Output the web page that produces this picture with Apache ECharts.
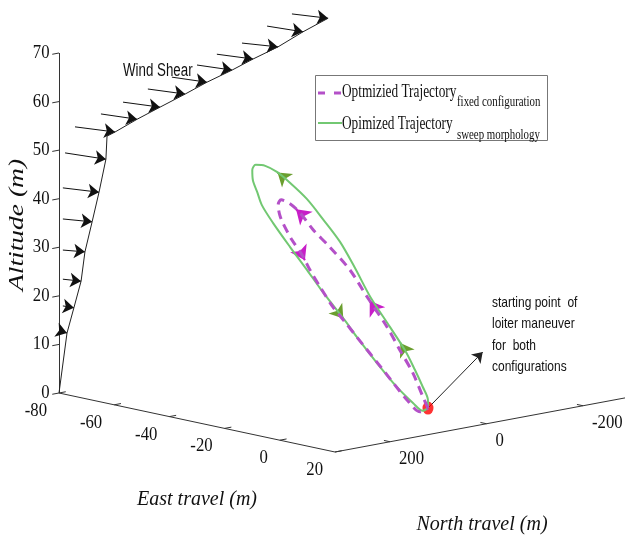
<!DOCTYPE html>
<html><head><meta charset="utf-8">
<script src="https://cdn.jsdelivr.net/npm/echarts@6/dist/echarts.min.js"></script>
<style>html,body{margin:0;padding:0;background:#fff}#c{width:625px;height:539px}</style>
</head><body><div id="c"></div>
<script>
// ---------- axis ranges and ticks ----------
const eastRange = [-80, 20];
const northRange = [314, -300];
const altRange = [0, 70];
const altTicks = [0, 10, 20, 30, 40, 50, 60, 70];
const eastTicks = [-80, -60, -40, -20, 0, 20];
const northTicks = [200, 0, -200];

// ---------- trajectories (east, north, altitude in m) ----------
const sweepEast  = [-0.5,-1.4,-2.9,-4.9,-7.3,-10.1,-13.7,-17.2,-20.3,-23.2,-25.7,-27.8,-29.2,-30.1,-30.4,-29.9,-28.8,-27.4,-25.9,-23.8,-20.8,-17.9,-15.7,-13.7,-11.6,-9.7,-6.4,-3.4,-1.3,-0.3,-0.5];
const sweepNorth = [4,-1,1,6,13,28,48,60,73,92,111,134,153,172,190,200,205,204,203,192,174,155,141,127,112,99,76,52,30,16,4];
const sweepAlt   = [0.8,2.3,4.8,8.2,12.1,16.8,22.9,28.7,33.9,38.6,42.8,46.3,48.7,50.2,50.7,49.9,48.0,45.7,43.2,39.6,34.7,29.9,26.2,22.9,19.4,16.1,10.7,5.7,2.2,0.5,0.8];

const fixedEast  = [-0.5,-1.8,-4.6,-7.4,-10.1,-13.8,-17.1,-20.0,-22.2,-24.3,-25.5,-26.1,-25.6,-24.5,-23.5,-21.5,-19.7,-17.9,-15.8,-13.4,-11.5,-9.7,-5.5,-1.8,-0.2,-0.5];
const fixedNorth = [4,7,12,23,34,54,71,96,118,133,147,162,171,174,173,166,155,149,140,127,113,99,68,40,22,4];
const fixedAlt   = [0.8,3.0,7.7,12.3,16.9,23.0,28.5,33.3,37.0,40.5,42.5,43.5,42.7,40.8,39.2,35.9,32.8,29.8,26.4,22.3,19.2,16.1,9.2,3.0,0.4,0.8];

// direction arrows placed along trajectories (fractional point index)
const sweepArrowAt = [4.3, 11.95, 23.85];
const fixedArrowAt = [4.87, 9.4, 16.35];

const startPoint = [-0.5, 4, 0.8];
const annotationTip = [-5.5, -138, 9.1];

// ---------- wind shear profile (north = axis corner) ----------
const windTailEast = [-78.9,-78.6,-78.6,-78.6,-78.6,-78.6,-77.8,-74.2,-64.8,-56.8,-47.8,-39.1,-30.0,-22.8,-13.7,-4.6,4.4];
const windTailAlt  = [12.8,18.1,23.6,29.6,36.0,42.4,49.7,55.5,59.3,62.7,66.5,70.0,73.6,76.7,80.1,84.7,88.3];
const windTipEast  = [-77.1,-74.6,-72.0,-70.6,-68.0,-65.5,-63.0,-59.7,-51.7,-43.4,-34.3,-26.4,-17.3,-9.7,-0.65,8.4,17.5];
const windTipAlt   = [12.7,18.2,24.0,30.2,36.7,43.1,50.2,56.2,59.8,63.3,67.1,70.5,74.1,77.3,80.9,85.1,89.0];
const windProfileEast = [-80,-77.1,-74.6,-72.0,-70.6,-68.0,-65.5,-63.0,-62.6,-59.7,-51.7,-43.4,-34.3,-26.4,-17.3,-9.7,-0.65,8.4,17.5];
const windProfileAlt  = [0,12.7,18.2,24.0,30.2,36.7,43.1,50.2,55.0,56.2,59.8,63.3,67.1,70.5,74.1,77.3,80.9,85.1,89.0];

// ---------- view (oblique projection) ----------
const W = 625, H = 539;
const view = { ox: 59, oy: 393, e: [2.76, 0.59], n: [-0.4825, 0.09], u: [0, -4.857] };
function proj(e, n, u) {
  const de = e - eastRange[0], dn = n - northRange[0];
  return [view.ox + de*view.e[0] + dn*view.n[0] + u*view.u[0],
          view.oy + de*view.e[1] + dn*view.n[1] + u*view.u[1]];
}
function pts(E, N, U) { return E.map((e, i) => proj(e, N[i], U[i])); }
function along(E, N, U, t) {
  const i = Math.floor(t), f = t - i, j = Math.min(i + 1, E.length - 1);
  return proj(E[i] + (E[j]-E[i])*f, N[i] + (N[j]-N[i])*f, U[i] + (U[j]-U[i])*f);
}
const cornerN = northRange[0];

// axis + tick segments
const axisSegs = [
  [proj(eastRange[0], cornerN, altRange[0]), proj(eastRange[0], cornerN, altRange[1])],
  [proj(eastRange[0], cornerN, 0), proj(eastRange[1], cornerN, 0)],
  [proj(eastRange[1], cornerN, 0), proj(eastRange[1], northRange[1], 0)]
];
altTicks.forEach(u => axisSegs.push([proj(eastRange[0], cornerN, u), proj(eastRange[0], cornerN + 14, u)]));
eastTicks.forEach(e => axisSegs.push([proj(e, cornerN, 0), proj(e, cornerN - 14, 0)]));
northTicks.forEach(n => axisSegs.push([proj(eastRange[1], n, 0), proj(eastRange[1] - 2.2, n, 0)]));

const windSegs = windTailEast.map((e, i) => ({ coords: [proj(e, cornerN, windTailAlt[i]), proj(windTipEast[i], cornerN, windTipAlt[i])] }));
const windLine = windProfileEast.map((e, i) => proj(e, cornerN, windProfileAlt[i]));

const sweepArrows = sweepArrowAt.map(t => ({ coords: [along(sweepEast, sweepNorth, sweepAlt, t - 0.35), along(sweepEast, sweepNorth, sweepAlt, t)] }));
const fixedArrows = fixedArrowAt.map(t => ({ coords: [along(fixedEast, fixedNorth, fixedAlt, t - 0.35), along(fixedEast, fixedNorth, fixedAlt, t)] }));

const GREEN = '#72c872', GREEN_ARROW = '#6a9e2e', PURPLE = '#b450c8', MAGENTA = '#c81ec8';

const chart = echarts.init(document.getElementById('c'), null, { renderer: 'canvas' });
chart.setOption({
  animation: false,
  backgroundColor: '#fff',
  grid: { left: 0, right: 0, top: 0, bottom: 0 },
  xAxis: { type: 'value', min: 0, max: W, show: false },
  yAxis: { type: 'value', min: 0, max: H, inverse: true, show: false },
  series: [
    { type: 'lines', coordinateSystem: 'cartesian2d', silent: true, symbol: 'none',
      lineStyle: { color: '#333', width: 1, opacity: 1 },
      data: axisSegs.map(s => ({ coords: s })) },
    { type: 'line', data: windLine, symbol: 'none', silent: true,
      lineStyle: { color: '#222', width: 1 } },
    { type: 'lines', coordinateSystem: 'cartesian2d', silent: true,
      symbol: ['none', 'arrow'], symbolSize: 11,
      lineStyle: { color: '#111', width: 1, opacity: 1 }, data: windSegs },
    { type: 'lines', coordinateSystem: 'cartesian2d', silent: true,
      symbol: ['none', 'arrow'], symbolSize: 10,
      lineStyle: { color: '#222', width: 1, opacity: 1 },
      data: [{ coords: [proj(...startPoint), proj(...annotationTip)] }] },
    { type: 'line', name: 'sweep', data: pts(sweepEast, sweepNorth, sweepAlt), symbol: 'none', smooth: 0.3,
      lineStyle: { color: GREEN, width: 2 }, silent: true },
    { type: 'line', name: 'fixed', data: pts(fixedEast, fixedNorth, fixedAlt), symbol: 'none', smooth: 0.3,
      lineStyle: { color: PURPLE, width: 3, type: [9, 6] }, silent: true },
    { type: 'lines', coordinateSystem: 'cartesian2d', silent: true,
      symbol: ['none', 'arrow'], symbolSize: 13,
      lineStyle: { color: GREEN_ARROW, width: 2, opacity: 1 }, data: sweepArrows },
    { type: 'lines', coordinateSystem: 'cartesian2d', silent: true,
      symbol: ['none', 'arrow'], symbolSize: 14,
      lineStyle: { color: MAGENTA, width: 2, opacity: 1 }, data: fixedArrows },
    { type: 'scatter', data: [proj(...startPoint)], symbol: 'circle', symbolSize: [11, 13],
      itemStyle: { color: '#ff0000' }, silent: true }
  ]
});

function px(p) { return chart.convertToPixel({ xAxisIndex: 0, yAxisIndex: 0 }, p); }
const SERIF = '"Liberation Serif","Times New Roman",serif';
const SANS = '"Liberation Sans",Arial,sans-serif';
function txt(x, y, text, font, align, sx, extra) {
  return Object.assign({ type: 'text', x: x, y: y, scaleX: sx || 1, silent: true,
    style: { text: text, font: font, fill: '#111', textAlign: align || 'left', textVerticalAlign: 'middle' } }, extra || {});
}
const g = [];
const tickFont = '19px ' + SERIF;
altTicks.forEach(u => { const p = px(proj(eastRange[0], cornerN, u)); g.push(txt(p[0] - 9.5, p[1], String(u), tickFont, 'right', 0.88)); });
eastTicks.forEach(e => { const p = px(proj(e, cornerN, 0)); g.push(txt(p[0] - 12, p[1] + 18, String(e), tickFont, 'right', 0.88)); });
northTicks.forEach(n => { const p = px(proj(eastRange[1], n, 0)); g.push(txt(p[0] + 9, p[1] + 17, String(n), tickFont, 'left', 0.88)); });

// axis titles
g.push(txt(197, 500, 'East travel (m)', 'italic 20px ' + SERIF, 'center', 1));
g.push(txt(482, 525, 'North travel (m)', 'italic 20px ' + SERIF, 'center', 1));
g.push(txt(17, 225, 'Altitude (m)', 'italic 22px ' + SERIF, 'center', 1.25, { rotation: Math.PI / 2 }));

// annotations
g.push(txt(123, 71, 'Wind Shear', '18px ' + SANS, 'left', 0.74));
['starting point  of', 'loiter maneuver', 'for  both', 'configurations'].forEach((s, i) => {
  g.push(txt(492, 303 + i * 21.3, s, '15px ' + SANS, 'left', 0.8));
});

// legend
g.push({ type: 'rect', silent: true, shape: { x: 315.5, y: 75.5, width: 232, height: 65 }, style: { fill: '#fff', stroke: '#777', lineWidth: 1 } });
g.push({ type: 'line', silent: true, shape: { x1: 318, y1: 93, x2: 342, y2: 93 }, style: { stroke: PURPLE, lineWidth: 3, lineDash: [7, 9] } });
g.push({ type: 'line', silent: true, shape: { x1: 318, y1: 123, x2: 342, y2: 123 }, style: { stroke: GREEN, lineWidth: 2 } });
g.push(txt(342, 92, 'Optmizied Trajectory', '19px ' + SERIF, 'left', 0.7));
g.push(txt(457, 102, 'fixed configuration', '15.5px ' + SERIF, 'left', 0.7));
g.push(txt(342, 124, 'Opimized Trajectory', '19px ' + SERIF, 'left', 0.7));
g.push(txt(457, 135, 'sweep morphology', '15.5px ' + SERIF, 'left', 0.7));

chart.setOption({ graphic: { elements: g } });
</script>
</body></html>
